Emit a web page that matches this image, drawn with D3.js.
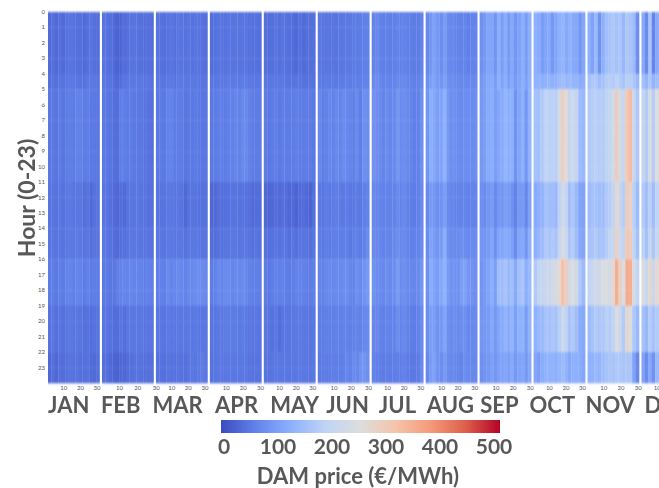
<!DOCTYPE html>
<html>
<head>
<meta charset="utf-8">
<script src="https://cdn.jsdelivr.net/npm/d3@7"></script>
<style>
body { margin: 0; background: #fff; }
svg { display: block; }
text { font-family: Lato, "Open Sans", sans-serif; fill: #595959; }
.big { font-weight: 700; }
.tiny { fill: #555; }
</style>
</head>
<body>
<svg width="659" height="488"></svg>
<script>
var months = ["JAN", "FEB", "MAR", "APR", "MAY", "JUN", "JUL", "AUG", "SEP", "OCT", "NOV", "DEC"];
var monthDays = [31, 28, 31, 30, 31, 30, 31, 31, 30, 31, 30, 31];
var hours = d3.range(24);
var dayTicks = [10, 20, 30];
var priceTicks = [0, 100, 200, 300, 400, 500];

//Hour groups: every row in a month table below is one of these groups
var hourGroups = [[0, 1, 2, 3], [4], [5, 6, 7, 8, 9, 10], [11, 12, 13], [14, 15], [16, 17, 18], [19, 20, 21], [22, 23]];

//Price in EUR/MWh, one column per 2 days or so
var jan = [
    [36, 42, 34, 40, 36, 44, 46, 44, 42, 40, 36, 42, 46, 40, 40],
    [42, 46, 42, 48, 44, 50, 52, 50, 50, 46, 44, 50, 50, 50, 48],
    [50, 52, 48, 54, 48, 54, 58, 54, 64, 62, 54, 58, 52, 52, 50],
    [46, 48, 44, 50, 44, 50, 52, 48, 50, 50, 40, 46, 34, 44, 46],
    [48, 50, 46, 50, 46, 50, 52, 50, 54, 52, 46, 50, 42, 48, 48],
    [54, 58, 52, 60, 54, 64, 66, 60, 68, 64, 56, 62, 56, 58, 56],
    [44, 50, 42, 48, 40, 48, 50, 46, 50, 48, 40, 44, 38, 44, 46],
    [32, 40, 32, 40, 38, 42, 46, 44, 46, 42, 40, 44, 36, 36, 42]
];
var feb = [
    [46, 44, 40, 34, 28, 30, 38, 42, 46, 46, 44, 42, 40, 40, 38],
    [50, 48, 46, 38, 34, 38, 48, 50, 52, 52, 50, 50, 48, 48, 44],
    [52, 50, 48, 42, 38, 58, 58, 54, 56, 52, 52, 50, 48, 44, 42],
    [48, 46, 42, 36, 32, 38, 36, 46, 48, 48, 50, 46, 46, 42, 40],
    [50, 48, 44, 38, 36, 42, 44, 48, 50, 50, 50, 48, 48, 46, 44],
    [52, 54, 50, 50, 60, 64, 68, 66, 68, 66, 66, 64, 60, 62, 58],
    [48, 48, 44, 38, 38, 48, 40, 50, 50, 50, 50, 50, 48, 48, 48],
    [42, 40, 34, 28, 26, 32, 32, 38, 42, 44, 46, 44, 42, 40, 40]
];
var mar = [
    [46, 44, 40, 44, 48, 42, 50, 46, 44, 48, 44, 48, 46, 44, 42],
    [50, 50, 48, 50, 52, 48, 54, 52, 50, 50, 50, 50, 50, 48, 48],
    [52, 54, 52, 62, 64, 56, 58, 54, 48, 52, 52, 54, 52, 50, 50],
    [48, 46, 46, 50, 50, 48, 50, 46, 32, 44, 46, 46, 44, 44, 44],
    [50, 50, 48, 52, 52, 50, 52, 50, 44, 50, 50, 50, 50, 48, 48],
    [60, 62, 60, 72, 66, 68, 74, 70, 64, 70, 72, 76, 78, 76, 72],
    [50, 50, 48, 52, 50, 50, 52, 50, 50, 52, 50, 52, 50, 50, 50],
    [44, 44, 40, 46, 44, 44, 46, 44, 40, 48, 50, 48, 52, 56, 50]
];
var apr = [
    [38, 44, 46, 46, 44, 48, 46, 48, 46, 48, 48, 44, 42, 44, 42],
    [48, 50, 52, 52, 52, 54, 52, 56, 52, 54, 54, 50, 50, 50, 50],
    [52, 56, 58, 58, 56, 60, 62, 68, 62, 70, 72, 62, 56, 54, 54],
    [32, 36, 40, 38, 42, 44, 46, 46, 44, 46, 44, 40, 34, 38, 38],
    [38, 40, 44, 44, 48, 48, 50, 50, 48, 50, 50, 46, 42, 46, 44],
    [54, 62, 72, 66, 74, 74, 68, 72, 70, 74, 70, 62, 60, 60, 58],
    [48, 50, 52, 52, 54, 54, 54, 54, 52, 54, 52, 50, 48, 50, 48],
    [44, 48, 50, 50, 50, 50, 50, 50, 50, 50, 50, 46, 44, 46, 46]
];
var may = [
    [42, 38, 42, 46, 40, 48, 44, 42, 38, 34, 42, 36, 40, 40, 40],
    [50, 50, 50, 50, 50, 52, 48, 46, 46, 48, 48, 44, 44, 46, 44],
    [54, 50, 56, 58, 52, 58, 56, 54, 56, 60, 56, 54, 56, 56, 52],
    [32, 30, 34, 38, 36, 40, 38, 32, 36, 28, 36, 38, 34, 28, 40],
    [44, 42, 44, 48, 44, 50, 48, 42, 48, 42, 48, 48, 46, 42, 48],
    [54, 52, 58, 62, 60, 64, 58, 56, 58, 64, 64, 62, 60, 56, 60],
    [50, 48, 44, 50, 38, 48, 50, 48, 50, 52, 52, 50, 50, 48, 50],
    [46, 46, 48, 50, 50, 50, 50, 48, 50, 50, 52, 50, 50, 48, 50]
];
var jun = [
    [50, 48, 48, 46, 48, 46, 50, 50, 52, 52, 54, 54, 56, 60, 62],
    [54, 52, 54, 52, 54, 52, 54, 56, 58, 56, 60, 58, 60, 64, 66],
    [68, 58, 62, 70, 64, 72, 66, 76, 70, 66, 60, 72, 58, 82, 78],
    [52, 48, 54, 52, 54, 58, 54, 52, 56, 50, 52, 54, 52, 60, 66],
    [54, 52, 58, 56, 58, 60, 58, 58, 60, 52, 58, 60, 54, 62, 78],
    [64, 62, 70, 72, 70, 74, 72, 76, 78, 68, 66, 80, 72, 86, 94],
    [56, 56, 60, 60, 60, 62, 60, 62, 62, 60, 62, 66, 62, 70, 74],
    [52, 54, 56, 56, 58, 58, 58, 60, 68, 62, 74, 70, 84, 88, 82]
];
var jul = [
    [64, 70, 62, 58, 62, 58, 60, 66, 62, 64, 60, 58, 54, 56, 64],
    [72, 78, 70, 64, 68, 64, 66, 72, 70, 72, 66, 64, 60, 62, 70],
    [84, 78, 74, 66, 76, 68, 72, 90, 74, 78, 70, 66, 60, 62, 80],
    [70, 68, 66, 62, 64, 62, 64, 74, 66, 72, 62, 58, 56, 62, 72],
    [72, 70, 68, 64, 68, 66, 70, 80, 70, 74, 66, 60, 62, 66, 74],
    [84, 76, 74, 70, 78, 72, 78, 96, 76, 82, 72, 70, 68, 74, 88],
    [68, 70, 64, 60, 66, 62, 64, 78, 66, 72, 62, 58, 56, 64, 74],
    [62, 60, 58, 54, 58, 56, 58, 60, 58, 62, 56, 52, 52, 56, 70]
];
var aug = [
    [70, 90, 104, 92, 78, 98, 74, 70, 68, 66, 64, 66, 60, 64, 66],
    [80, 100, 108, 96, 88, 104, 82, 78, 74, 72, 70, 72, 70, 72, 72],
    [88, 122, 114, 100, 108, 130, 92, 80, 80, 76, 74, 78, 78, 76, 78],
    [72, 94, 92, 80, 86, 100, 74, 68, 66, 66, 64, 66, 62, 64, 66],
    [76, 106, 98, 88, 98, 124, 82, 74, 72, 76, 80, 76, 72, 74, 76],
    [82, 120, 108, 98, 114, 130, 96, 84, 84, 84, 100, 104, 88, 84, 80],
    [78, 100, 100, 84, 92, 110, 80, 74, 78, 74, 78, 82, 70, 72, 72],
    [70, 96, 104, 86, 78, 94, 76, 70, 70, 68, 66, 78, 72, 70, 70]
];
var sep = [
    [82, 92, 110, 110, 86, 122, 100, 120, 94, 114, 88, 104, 122, 98, 124],
    [90, 100, 116, 118, 98, 128, 108, 124, 100, 116, 94, 110, 124, 104, 128],
    [92, 100, 118, 122, 100, 112, 118, 136, 122, 124, 84, 110, 126, 90, 130],
    [80, 76, 88, 96, 70, 90, 88, 102, 94, 82, 62, 92, 96, 68, 104],
    [88, 88, 96, 112, 80, 110, 110, 120, 114, 102, 74, 110, 116, 88, 124],
    [86, 94, 108, 124, 100, 150, 148, 160, 140, 150, 116, 152, 162, 124, 142],
    [88, 92, 96, 114, 92, 110, 118, 132, 118, 132, 102, 128, 130, 98, 132],
    [80, 86, 92, 102, 88, 102, 106, 112, 100, 114, 92, 106, 112, 92, 116]
];
var oct = [
    [126, 118, 96, 110, 116, 92, 110, 126, 134, 116, 128, 116, 114, 88, 112],
    [130, 130, 124, 130, 136, 126, 130, 144, 150, 140, 144, 134, 136, 120, 124],
    [156, 152, 172, 190, 182, 184, 178, 226, 286, 262, 196, 214, 196, 146, 138],
    [118, 124, 132, 156, 150, 150, 138, 184, 222, 196, 150, 164, 140, 108, 106],
    [124, 136, 148, 168, 162, 168, 158, 198, 238, 208, 162, 174, 148, 114, 110],
    [170, 194, 198, 208, 212, 222, 226, 262, 318, 290, 224, 242, 220, 166, 142],
    [128, 140, 142, 158, 156, 164, 154, 178, 214, 186, 158, 168, 150, 118, 114],
    [112, 100, 120, 130, 130, 130, 122, 136, 144, 130, 114, 126, 126, 120, 110]
];
var nov = [
    [122, 104, 140, 84, 126, 152, 158, 166, 156, 164, 138, 166, 160, 144, 80],
    [156, 166, 166, 148, 158, 174, 176, 172, 184, 172, 160, 178, 178, 164, 142],
    [170, 176, 180, 176, 174, 188, 196, 222, 292, 224, 204, 306, 324, 206, 166],
    [146, 156, 156, 150, 150, 170, 176, 192, 266, 200, 176, 292, 278, 180, 146],
    [156, 162, 170, 158, 158, 176, 192, 206, 282, 210, 188, 306, 292, 188, 154],
    [190, 206, 224, 218, 246, 242, 226, 266, 344, 282, 246, 348, 344, 232, 196],
    [146, 158, 170, 164, 166, 182, 174, 190, 252, 204, 172, 268, 244, 166, 140],
    [128, 130, 140, 134, 150, 158, 162, 160, 168, 166, 160, 164, 164, 104, 70]
];
//Only the first days of december are in the picture
var dec = [
    [116, 74, 160, 66, 116, 140],
    [154, 136, 164, 132, 150, 158],
    [196, 172, 236, 176, 250, 216],
    [170, 150, 180, 150, 194, 174],
    [182, 156, 200, 164, 206, 188],
    [236, 206, 268, 210, 266, 236],
    [156, 138, 174, 156, 172, 166],
    [106, 78, 114, 84, 140, 140]
];
var monthTables = [jan, feb, mar, apr, may, jun, jul, aug, sep, oct, nov, dec];

//coolwarm colours, evenly spaced over the price range
var coolwarm = ["#3b4cc0", "#6282ea", "#8db0fe", "#c0d4f5", "#dddddd", "#f5c4ac", "#f49a7b", "#dd604c", "#b40426"];

var svg = d3.select("svg"),
    plot = { left: 48, right: 693, top: 12, bottom: 383 };

var monthX = d3.scaleBand().domain(months).range([plot.left, plot.right]).paddingInner(0.045),
    hourY = d3.scaleBand().domain(hours).range([plot.top, plot.bottom]),
    color = d3.scaleLinear()
        .domain(coolwarm.map(function (c, i) { return i * 500 / (coolwarm.length - 1); }))
        .range(coolwarm);

//The original is a resampled screenshot, so everything is a bit soft
var defs = svg.append("defs");
defs.append("filter").attr("id", "soft").attr("x", "-2%").attr("width", "104%")
    .append("feGaussianBlur").attr("stdDeviation", "0.6 0.9");
defs.append("filter").attr("id", "softText")
    .append("feGaussianBlur").attr("stdDeviation", "0.35");

var heat = svg.append("g").attr("filter", "url(#soft)");

months.forEach(function (month, m) {
    var table = monthTables[m],
        //Block width comes from a full 15 column month, also for the cut off december
        blockX = d3.scaleBand().domain(d3.range(15)).range([monthX(month), monthX(month) + monthX.bandwidth()]);

    var rows = [];
    hourGroups.forEach(function (group, g) {
        group.forEach(function (hour) {
            table[g].forEach(function (value, i) {
                rows.push({ hour: hour, block: i, value: value });
            });
        });
    });

    heat.append("g").selectAll("rect")
        .data(rows)
        .enter().append("rect")
        .attr("x", function (d) { return blockX(d.block); })
        .attr("y", function (d) { return hourY(d.hour); })
        .attr("width", blockX.bandwidth() + 0.3)
        .attr("height", hourY.bandwidth() + 0.3)
        .attr("fill", function (d) { return color(d.value); });

    //Day axis of this month
    var dayX = d3.scaleLinear().domain([0.5, monthDays[m] + 0.5]).range(blockX.range());
    svg.append("g").selectAll("text")
        .data(dayTicks)
        .enter().append("text")
        .attr("class", "tiny")
        .attr("x", function (d) { return dayX(d); })
        .attr("y", 390)
        .attr("text-anchor", "middle")
        .attr("font-size", 6)
        .text(function (d) { return d; });
});

//Hour axis
svg.append("g").selectAll("text")
    .data(hours)
    .enter().append("text")
    .attr("class", "tiny")
    .attr("x", 45)
    .attr("y", function (d) { return hourY(d) + 2; })
    .attr("text-anchor", "end")
    .attr("font-size", 6)
    .text(function (d) { return d; });

//Month names were placed by hand in the original, not quite under their panels
var labelShift = [-5, -7, -4, 1, 5, 4, 0, -1, -6, -7, -3, -1];
var labels = svg.append("g").attr("filter", "url(#softText)");

labels.selectAll("text")
    .data(months)
    .enter().append("text")
    .attr("class", "big")
    .attr("x", function (d, i) { return monthX(d) + monthX.bandwidth() / 2 + labelShift[i]; })
    .attr("y", 413)
    .attr("text-anchor", "middle")
    .attr("font-size", 22)
    .text(function (d) { return d; });

labels.append("text")
    .attr("class", "big")
    .attr("transform", "translate(35,198) rotate(-90)")
    .attr("text-anchor", "middle")
    .attr("font-size", 23)
    .text("Hour (0-23)");

//Colour bar
var gradient = defs.append("linearGradient").attr("id", "bar");
gradient.selectAll("stop")
    .data(coolwarm)
    .enter().append("stop")
    .attr("offset", function (d, i) { return i / (coolwarm.length - 1); })
    .attr("stop-color", function (d) { return d; });

svg.append("rect")
    .attr("x", 221)
    .attr("y", 420)
    .attr("width", 279)
    .attr("height", 13)
    .attr("fill", "url(#bar)")
    .attr("filter", "url(#softText)");

var priceX = d3.scaleLinear().domain([0, 500]).range([224, 494]);

labels.append("g").selectAll("text")
    .data(priceTicks)
    .enter().append("text")
    .attr("class", "big")
    .attr("x", function (d) { return priceX(d); })
    .attr("y", 454)
    .attr("text-anchor", "middle")
    .attr("font-size", 21)
    .text(function (d) { return d; });

labels.append("text")
    .attr("class", "big")
    .attr("x", 358)
    .attr("y", 484)
    .attr("text-anchor", "middle")
    .attr("font-size", 22)
    .text("DAM price (€/MWh)");
</script>
</body>
</html>
